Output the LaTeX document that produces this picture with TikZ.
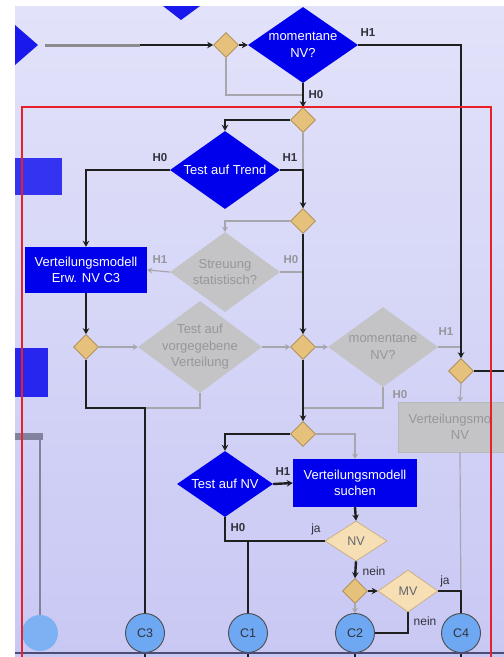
\documentclass[tikz,border=0pt]{standalone}
\usepackage{fontspec}
\setmainfont{Liberation Sans}
\usetikzlibrary{shapes.geometric,arrows.meta}
\definecolor{bgA}{RGB}{226,226,250}
\definecolor{bgB}{RGB}{200,200,244}
\definecolor{actblue}{RGB}{0,0,236}
\definecolor{gwfill}{RGB}{229,193,124}
\definecolor{gwline}{RGB}{168,138,74}
\definecolor{decfill}{RGB}{246,223,181}
\definecolor{decline}{RGB}{200,168,112}
\definecolor{offfill}{RGB}{196,196,198}
\definecolor{offtext}{RGB}{150,150,156}
\definecolor{offline}{RGB}{166,166,172}
\definecolor{conn}{RGB}{110,168,242}
\definecolor{frame}{RGB}{232,32,42}
\definecolor{lbl}{RGB}{50,50,60}
\begin{document}
\begin{tikzpicture}[x=1pt,y=-1pt,
  gw/.style={diamond, draw=gwline, fill=gwfill, line width=0.6pt,
    minimum width=25pt, minimum height=25pt, inner sep=0pt},
  dia/.style 2 args={diamond, inner sep=0pt, minimum width=#1, minimum height=#2},
  act/.style={fill=actblue, draw=none},
  off/.style={fill=offfill, draw=none},
  dec/.style={fill=decfill, draw=decline, line width=0.6pt},
  wtxt/.style={text=white, align=center, font=\fontsize{13}{16.5}\selectfont},
  gtxt/.style={text=offtext, align=center, font=\fontsize{13}{16.5}\selectfont},
  dtxt/.style={text=lbl!75, align=center, font=\fontsize{12.5}{15}\selectfont},
  hl/.style={text=lbl, font=\bfseries\fontsize{11.5}{13}\selectfont, inner sep=0pt},
  hg/.style={text=offtext, font=\bfseries\fontsize{11.5}{13}\selectfont, inner sep=0pt},
  jl/.style={text=lbl, font=\fontsize{12}{13}\selectfont, inner sep=0pt},
  bl/.style={draw=black!88, line width=2.4pt},
  gr/.style={draw=offline, line width=1.2pt},
  barr/.style={-{Stealth[length=6pt,width=6.5pt]}},
  garr/.style={-{Stealth[length=5pt,width=6pt]}},
  cx/.style={circle, fill=conn, draw=black!70, line width=0.9pt, minimum size=39pt,
    inner sep=0pt, text=lbl, font=\fontsize{12.5}{14}\selectfont}
]
\useasboundingbox (0,0) rectangle (504,657);

% page background
\fill[white] (0,0) rectangle (504,657);
\shade[top color=bgA, bottom color=bgB] (15,6) rectangle (504,657);

% fragments of neighbouring elements at the left and top edges
\fill[actblue!90!white] (15,25) -- (38,45) -- (15,65) -- cycle;
\fill[actblue!90!white] (163,6) -- (200,6) -- (181,20) -- cycle;
\fill[actblue!80!white] (15,158) rectangle (62,195);
\fill[actblue!85!white] (15,348) rectangle (48,397);
\fill[black!35!bgB] (15,433) rectangle (43,440);
\draw[black!35!bgB, line width=2.5pt] (40,440) -- (40,616);
\fill[conn!90!white] (40,633) circle (18);

% ---------- nodes ----------
\node[gw] (g1) at (226,45) {};
\node[dia={110pt}{76pt}, act, label={[wtxt]center:{momentane\\NV?}}] (mnv1) at (303,45) {};
\node[gw] (g2) at (303,120) {};
\node[dia={110pt}{78pt}, act, label={[wtxt]center:{Test auf Trend}}] (trend) at (225,170) {};
\node[gw] (g3) at (303,221) {};
\node[dia={110pt}{80pt}, off, label={[gtxt]center:{Streuung\\statistisch?}}] (streu) at (225,272) {};
\node[rectangle, act, minimum width=122pt, minimum height=46pt, inner sep=0pt,
      wtxt] (box1) at (86,270) {Verteilungsmodell\\Erw. NV C3};
\node[gw] (g5) at (86,347) {};
\node[dia={124pt}{92pt}, off, label={[gtxt]center:{Test auf\\vorgegebene\\Verteilung}}] (vorg) at (200,347) {};
\node[gw] (g4) at (303,347) {};
\node[dia={110pt}{80pt}, off, label={[gtxt]center:{momentane\\NV?}}] (mnv2) at (383,347) {};
\node[gw] (g6) at (461,371) {};
\node[rectangle, off, draw=offline!80, line width=0.6pt, minimum width=124pt,
      minimum height=50pt, inner sep=0pt] (box2) at (460,427) {};
\begin{scope}
  \clip (0,0) rectangle (490,657);
  \node[gtxt] (box2t) at (box2.center) {Verteilungsmodell\\NV};
\end{scope}
\node[gw] (g7) at (303,434) {};
\node[dia={96pt}{66pt}, act, label={[wtxt]center:{Test auf NV}}] (tnv) at (225,484) {};
\node[rectangle, act, minimum width=124pt, minimum height=48pt, inner sep=0pt,
      wtxt] (box3) at (355,483) {Verteilungsmodell\\suchen};
\node[dia={62pt}{40pt}, dec, label={[dtxt]center:{NV}}] (nv) at (356,541) {};
\node[gw] (g8) at (355,591) {};
\node[dia={60pt}{42pt}, dec, label={[dtxt]center:{MV}}] (mv) at (408,591) {};
\node[cx] (c3) at (145,633) {C3};
\node[cx] (c1) at (248,633) {C1};
\node[cx] (c2) at (355,633) {C2};
\node[cx] (c4) at (461,633) {C4};

% junction points and free ends
\coordinate (in0) at (45,45);
\coordinate (in1) at (140,45);
\coordinate (j1) at (303,95);
\coordinate (j2) at (303,272);
\coordinate (j3) at (145,408);
\coordinate (j4) at (461,347);
\coordinate (j5) at (303,408);
\coordinate (j6) at (248,541);
\coordinate (rx) at (504,371);
\coordinate (tr) at (461,45);
\coordinate (b3) at (145,657);
\coordinate (b1) at (248,657);
\coordinate (b2) at (355,657);
\coordinate (b4) at (461,657);

% ---------- inactive (grey) flow ----------
\draw[gr] (g1.south) |- (j1);
\draw[gr] (g2.south) -- (g3.north);
\draw[gr, garr] (g3.west) -| (streu.north);
\draw[gr, garr] (streu.west) -- (box1.east);
\draw[gr] (streu.east) -- (j2);
\draw[gr, garr] (g5.east) -- (vorg.west);
\draw[gr, garr] (vorg.east) -- (g4.west);
\draw[gr] (vorg.south) |- (j3);
\draw[gr, garr] (g4.east) -- (mnv2.west);
\draw[gr] (mnv2.east) -- (j4);
\draw[gr] (mnv2.south) |- (j5);
\draw[gr, garr] (g6.south) -- (box2.north);
\draw[gr] (box2.south) -- (c4.north);
\draw[gr, garr] (g7.east) -| (box3.north);
\draw[gr, garr] (g8.south) -- (c2.north);

% ---------- active (black) flow ----------
\draw[draw=black!45, line width=3pt] (in0) -- (in1);
\draw[bl, barr] (in1) -- (g1.west);
\draw[bl, barr] (g1.east) -- (mnv1.west);
\draw[bl, barr] (mnv1.east) -- (tr) -- (g6.north);
\draw[bl, barr] (mnv1.south) -- (g2.north);
\draw[bl, barr] (g2.west) -| (trend.north);
\draw[bl, barr] (trend.west) -| (box1.north);
\draw[bl, barr] (trend.east) -| (g3.north);
\draw[bl, barr] (g3.south) -- (g4.north);
\draw[bl, barr] (box1.south) -- (g5.north);
\draw[bl] (g5.south) |- (j3) -- (c3.north);
\draw[bl, barr] (g4.south) -- (g7.north);
\draw[bl] (g6.east) -- (rx);
\draw[bl, barr] (g7.west) -| (tnv.north);
\draw[bl, barr] (tnv.east) -- (box3.west);
\draw[bl] (tnv.south) |- (nv.west);
\draw[bl] (j6) -- (c1.north);
\draw[bl, barr] (box3.south) -- (nv.north);
\draw[bl, barr] (nv.south) -- (g8.north);
\draw[bl, barr] (g8.east) -- (mv.west);
\draw[bl] (mv.east) -| (c4.north);
\draw[bl] (mv.south) |- (c2.east);
\draw[bl] (c3.south) -- (b3);
\draw[bl] (c1.south) -- (b1);
\draw[bl] (c2.south) -- (b2);
\draw[bl] (c4.south) -- (b4);

% ---------- edge labels ----------
\node[hl] (l1) at (368,33) {H1};
\node[hl] (l2) at (316,95) {H0};
\node[hl] (l3) at (160,158) {H0};
\node[hl] (l4) at (290,158) {H1};
\node[hg] (l5) at (160,260) {H1};
\node[hg] (l6) at (291,260) {H0};
\node[hg] (l7) at (446,332) {H1};
\node[hg] (l8) at (400,395) {H0};
\node[hl] (l9) at (283,472) {H1};
\node[hl] (l10) at (238,528) {H0};
\node[jl] (l11) at (316,529) {ja};
\node[jl] (l12) at (374,571) {nein};
\node[jl] (l13) at (445,581) {ja};
\node[jl] (l14) at (425,621) {nein};

% swimlane frame and lower border
\draw[black!60!blue!40!gray, line width=2pt] (15,653) -- (504,653);
\draw[frame, line width=2pt] (22,107) rectangle (491,700);
\end{tikzpicture}
\end{document}
